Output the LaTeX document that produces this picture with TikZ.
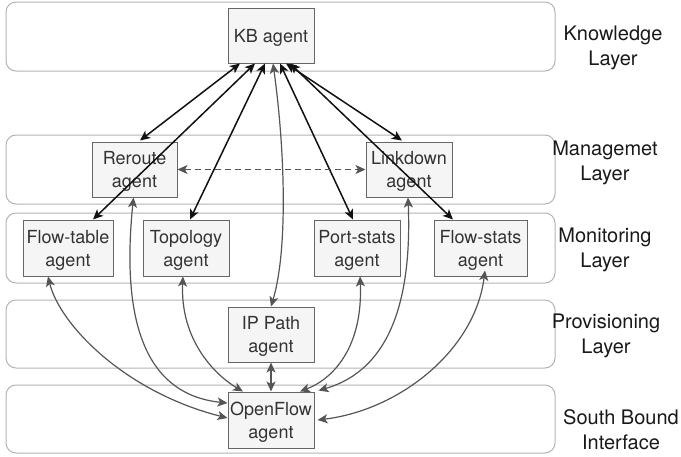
\documentclass[tikz,border=0pt]{standalone}
\usepackage{fontspec}
\setmainfont{TeX Gyre Heros}
\usetikzlibrary{arrows.meta,calc}
\definecolor{boxline}{HTML}{666666}
\definecolor{boxfill}{HTML}{F5F5F5}
\definecolor{layerline}{HTML}{B3B3B3}
\definecolor{txt}{HTML}{333333}
\definecolor{graycon}{HTML}{555555}
\definecolor{blackcon}{HTML}{111111}
\tikzset{
  tip/.tip={Stealth[length=10pt,width=9pt,inset=2.5pt]},
  layerbox/.style={draw=layerline, line width=1pt, rounded corners=10pt},
  agentbox/.style={draw=boxline, fill=boxfill, line width=1pt, align=center, text=txt,
    inner sep=0pt, minimum height=55pt, text depth=0pt, font=\fontsize{18}{23}\selectfont},
  layerlabel/.style={align=center, text=black!90, inner sep=0pt, font=\fontsize{20}{25}\selectfont},
  blackarrow/.style={draw=blackcon, line width=1.5pt, {tip}-{tip}},
  grayarrow/.style={draw=graycon, line width=1.2pt, {tip}-{tip}},
  dasharrow/.style={draw=graycon, line width=1.1pt, dash pattern=on 6pt off 4pt, {tip}-{tip}}
}
\begin{document}
\begin{tikzpicture}[x=1pt,y=-1pt]
\useasboundingbox (0,0) rectangle (681,456);
% layers
\draw[layerbox] (6,2) rectangle (555,71);
\draw[layerbox] (6,135) rectangle (555,204);
\draw[layerbox] (6,213) rectangle (555,283);
\draw[layerbox] (6,300) rectangle (555,368);
\draw[layerbox] (6,385) rectangle (555,453);
% layer labels
\node[layerlabel] (kl) at (613,47.5) {Knowledge\\Layer};
\node[layerlabel] (ml) at (605,163) {Managemet\\Layer};
\node[layerlabel] (mol) at (605,250) {Monitoring\\Layer};
\node[layerlabel] (pl) at (606,336) {Provisioning\\Layer};
\node[layerlabel] (sl) at (621,430) {South Bound\\Interface};
% agents
\node[agentbox, minimum width=86pt] (kb) at (271,35.5) {KB agent};
\node[agentbox, minimum width=85pt] (rr) at (134.5,169.5) {Reroute\\agent};
\node[agentbox, minimum width=86pt] (ld) at (409,169.5) {Linkdown\\agent};
\node[agentbox, minimum width=90pt, minimum height=56pt] (ft) at (68,248) {Flow-table\\agent};
\node[agentbox, minimum width=86pt, minimum height=56pt] (tp) at (186,248) {Topology\\agent};
\node[agentbox, minimum width=86pt, minimum height=56pt] (ps) at (357,248) {Port-stats\\agent};
\node[agentbox, minimum width=93pt, minimum height=56pt] (fs) at (480.5,248) {Flow-stats\\agent};
\node[agentbox, minimum width=86pt] (ip) at (271,334.5) {IP Path\\agent};
\node[agentbox, minimum width=86pt, minimum height=56pt] (of) at (271,420) {OpenFlow\\agent};
% black arrows from KB
\draw[blackarrow] ($(kb.south)+(-31,0)$) -- ($(rr.north)+(5.5,-1)$);
\draw[blackarrow] ($(kb.south)+(-16,0)$) -- ($(ft.north)+(25,0)$);
\draw[blackarrow] ($(kb.south)+(-6,0)$) -- ($(tp.north)+(4,0)$);
\draw[blackarrow] ($(kb.south)+(9,0)$) -- ($(ps.north)+(-4,0)$);
\draw[blackarrow] ($(kb.south)+(15,0)$) -- ($(ld.north)+(-7,-1)$);
\draw[blackarrow] ($(kb.south)+(19,0)$) -- ($(fs.north)+(-27.5,0)$);
% gray curves
\draw[grayarrow] ($(kb.south)+(2,0)$) .. controls (285,150) and (288,250) .. (ip.north);
\draw[grayarrow] ($(rr.south)+(-1,0)$) .. controls (120,330) and (150,395) .. ($(of.west)+(0,-17)$);
\draw[grayarrow] ($(ld.south)+(-1,0)$) .. controls (412,300) and (390,370) .. ($(of.north east)+(4,-1)$);
\draw[grayarrow] ($(ft.south)+(-20,0)$) .. controls (60,325) and (125,392) .. ($(of.west)+(0,-2)$);
\draw[grayarrow] ($(tp.south)+(-3,0)$) .. controls (180,340) and (215,375) .. ($(of.north)+(-28,0)$);
\draw[grayarrow] ($(ps.south)+(3,0)$) .. controls (363,345) and (335,378) .. ($(of.north)+(29,0)$);
\draw[grayarrow] ($(fs.south)+(4.5,-6)$) .. controls (475,350) and (400,410) .. ($(of.east)+(3,0)$);
\draw[grayarrow] (ip.south) -- (of.north);
% dashed
\draw[dasharrow] (rr.east) -- (ld.west);
\end{tikzpicture}
\end{document}
